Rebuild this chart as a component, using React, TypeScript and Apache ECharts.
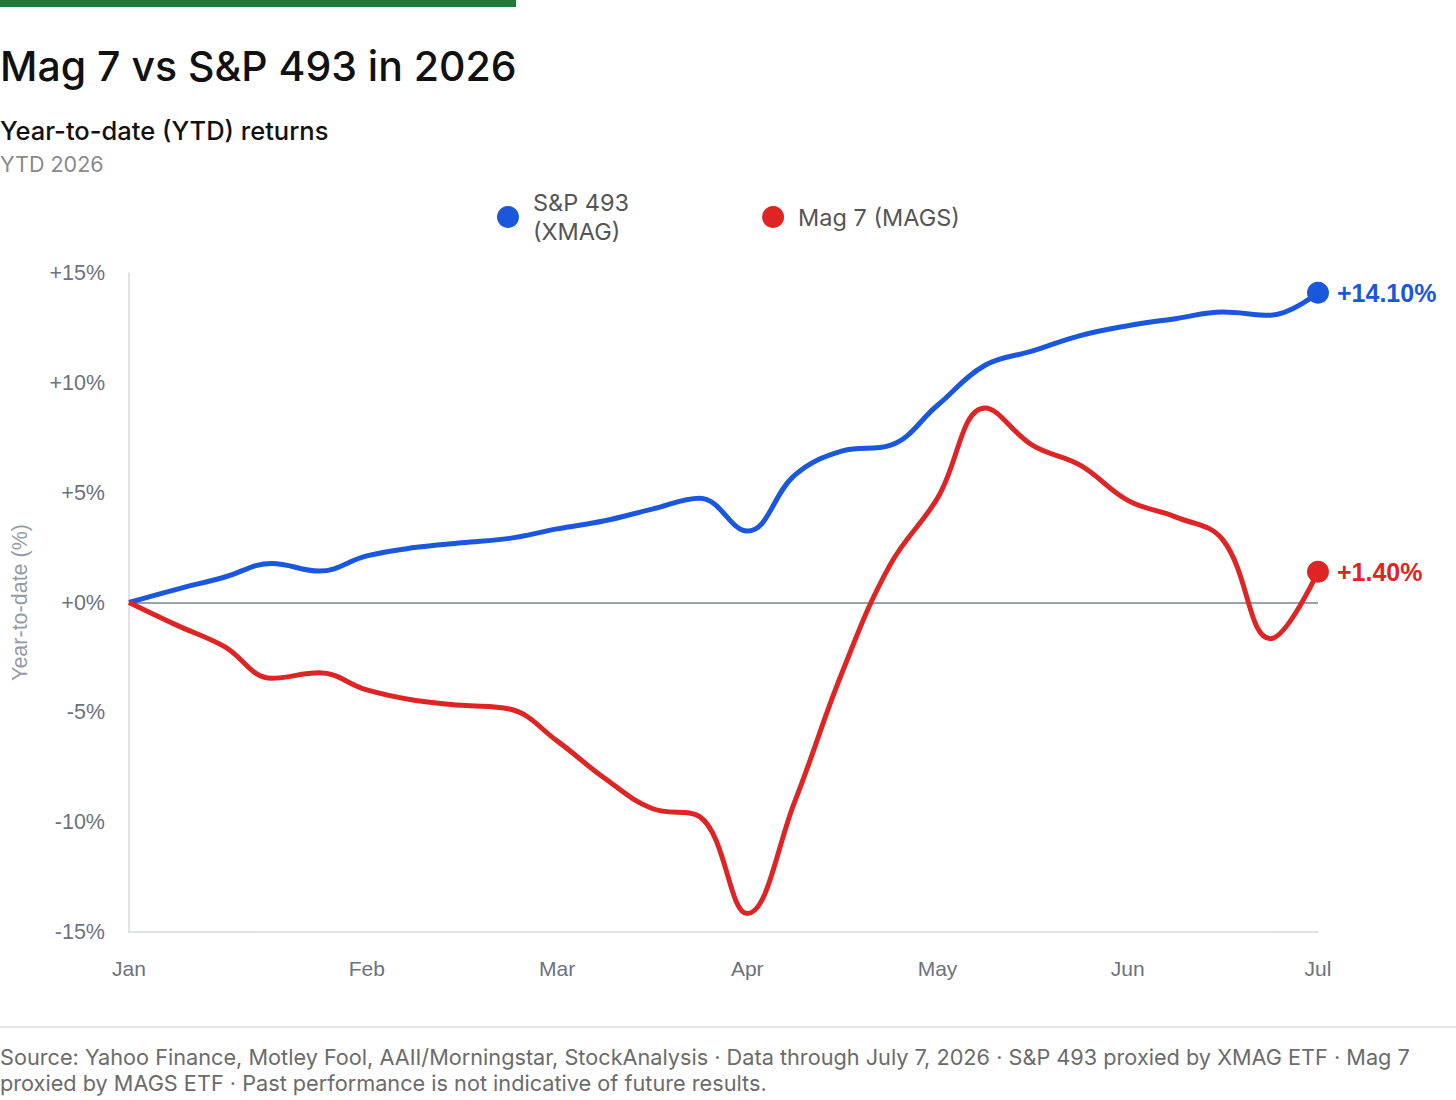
import React, { useEffect, useRef } from "react";
import * as echarts from "echarts";

const weeks = [
  "W01", "W02", "W03", "W04", "W05", "W06", "W07", "W08", "W09", "W10", "W11", "W12", "W13",
  "W14", "W15", "W16", "W17", "W18", "W19", "W20", "W21", "W22", "W23", "W24", "W25", "W26",
];
const monthTickIndex = [0, 5, 9, 13, 17, 21, 25];
const monthTickLabels = ["Jan", "Feb", "Mar", "Apr", "May", "Jun", "Jul"];

const xmagReturns = [
  0, 0.6, 1.15, 1.78, 1.43, 2.12, 2.5, 2.72, 2.92, 3.35, 3.72, 4.25, 4.75,
  3.25, 5.8, 6.9, 7.15, 8.98, 10.8, 11.45, 12.15, 12.6, 12.92, 13.22, 13.08, 14.1,
];
const magsReturns = [
  0, -1.03, -2.0, -3.45, -3.2, -3.98, -4.45, -4.68, -4.85, -6.3, -8.0, -9.38, -9.75,
  -14.16, -9.05, -3.15, 1.7, 4.75, 8.85, 7.15, 6.25, 4.65, 3.9, 2.85, -1.65, 1.4,
];

const seriesNames = ["S&P 493 (XMAG)", "Mag 7 (MAGS)"];
const BLUE = "#1b57dc";
const RED = "#de2424";

const fmtPct = (v: number, digits = 0) => (v >= 0 ? "+" : "") + v.toFixed(digits) + "%";

export default function App() {
  const ref = useRef<HTMLDivElement>(null);
  useEffect(() => {
    if (!ref.current) return;
    const chart = echarts.init(ref.current, null, { renderer: "svg" });
    const axisFont = "'Liberation Sans', Arial, sans-serif";
    const uiFont = "Inter, 'Noto Sans', sans-serif";
    const last = weeks.length - 1;
    chart.setOption({
      animation: false,
      backgroundColor: "#ffffff",
      title: [
        {
          text: "Mag 7 vs S&P 493 in 2026",
          left: 0,
          top: 41,
          padding: 0,
          textStyle: { fontFamily: uiFont, fontSize: 41, fontWeight: 500, color: "#111111", lineHeight: 50 },
        },
        {
          text: "Year-to-date (YTD) returns",
          left: 0,
          top: 114,
          padding: 0,
          textStyle: { fontFamily: uiFont, fontSize: 25.5, fontWeight: 500, color: "#111111", lineHeight: 32 },
        },
        {
          text: "YTD 2026",
          left: 0,
          top: 151,
          padding: 0,
          textStyle: { fontFamily: uiFont, fontSize: 21.5, fontWeight: 400, color: "#8a8a8a", lineHeight: 26 },
        },
      ],
      legend: {
        data: seriesNames,
        left: 497,
        top: 188,
        padding: 0,
        icon: "circle",
        itemWidth: 22,
        itemHeight: 22,
        itemGap: 133,
        formatter: (name: string) => (name === seriesNames[0] ? "S&P 493\n(XMAG)" : name),
        textStyle: {
          fontFamily: uiFont,
          fontSize: 23.5,
          color: "#555555",
          lineHeight: 29,
          padding: [0, 0, 0, 9],
        },
      },
      grid: { left: 129, right: 138, top: 273, bottom: 168, containLabel: false },
      xAxis: {
        type: "category",
        data: weeks,
        boundaryGap: false,
        axisLine: { show: true, onZero: false, lineStyle: { color: "#d4d8de", width: 1.5 } },
        axisTick: { show: false },
        splitLine: { show: false },
        axisLabel: {
          interval: (index: number) => monthTickIndex.indexOf(index) >= 0,
          formatter: (_v: string, index: number) => {
            const k = monthTickIndex.indexOf(index);
            return k >= 0 ? monthTickLabels[k] : "";
          },
          margin: 26,
          fontFamily: axisFont,
          fontSize: 21,
          color: "#6b7280",
        },
      },
      yAxis: {
        type: "value",
        min: -15,
        max: 15,
        interval: 5,
        name: "Year-to-date (%)",
        nameLocation: "middle",
        nameGap: 98,
        nameTextStyle: { fontFamily: axisFont, fontSize: 21.5, color: "#959ba5" },
        axisLine: { show: true, lineStyle: { color: "#d4d8de", width: 1.5 } },
        axisTick: { show: false },
        splitLine: { show: false },
        axisLabel: {
          formatter: (v: number) => fmtPct(v),
          margin: 24,
          fontFamily: axisFont,
          fontSize: 21.5,
          color: "#6b7280",
        },
      },
      graphic: [
        { type: "rect", left: 0, top: 0, shape: { width: 516, height: 7 }, style: { fill: "#1e7b3a" } },
        {
          type: "line",
          shape: { x1: 0, y1: 1027, x2: 1456, y2: 1027 },
          style: { stroke: "#dddddd", lineWidth: 1.5 },
        },
        {
          type: "text",
          left: 0,
          top: 1044,
          style: {
            text:
              "Source: Yahoo Finance, Motley Fool, AAII/Morningstar, StockAnalysis · Data through July 7, 2026 · S&P 493 proxied by XMAG ETF · Mag 7\nproxied by MAGS ETF · Past performance is not indicative of future results.",
            fontFamily: uiFont,
            fontSize: 21.7,
            lineHeight: 26,
            fill: "#6b6b6b",
          },
        },
      ],
      series: [
        {
          name: seriesNames[0],
          type: "line",
          data: xmagReturns,
          smooth: 0.4,
          showSymbol: false,
          symbol: "circle",
          lineStyle: { color: BLUE, width: 5 },
          itemStyle: { color: BLUE },
          z: 3,
          markLine: {
            silent: true,
            symbol: "none",
            label: { show: false },
            lineStyle: { color: "#9aa2ad", width: 2, type: "solid" },
            data: [{ yAxis: 0 }],
            z: 1,
          },
        },
        {
          name: seriesNames[1],
          type: "line",
          data: magsReturns,
          smooth: 0.4,
          showSymbol: false,
          symbol: "circle",
          lineStyle: { color: RED, width: 5 },
          itemStyle: { color: RED },
          z: 3,
        },
        {
          name: "XMAG end",
          type: "scatter",
          data: [[weeks[last], xmagReturns[last]]],
          symbolSize: 22,
          itemStyle: { color: BLUE, opacity: 1 },
          z: 4,
          label: {
            show: true,
            position: "right",
            distance: 8,
            formatter: () => fmtPct(xmagReturns[last], 2),
            fontFamily: axisFont,
            fontSize: 25,
            fontWeight: 700,
            color: BLUE,
          },
        },
        {
          name: "MAGS end",
          type: "scatter",
          data: [[weeks[last], magsReturns[last]]],
          symbolSize: 22,
          itemStyle: { color: RED, opacity: 1 },
          z: 4,
          label: {
            show: true,
            position: "right",
            distance: 8,
            formatter: () => fmtPct(magsReturns[last], 2),
            fontFamily: axisFont,
            fontSize: 25,
            fontWeight: 700,
            color: RED,
          },
        },
      ],
    });
    return () => chart.dispose();
  }, []);
  return (
    <div
      ref={ref}
      style={{ position: "absolute", left: 0, top: 0, width: 1456, height: 1100, background: "#fff" }}
    />
  );
}
